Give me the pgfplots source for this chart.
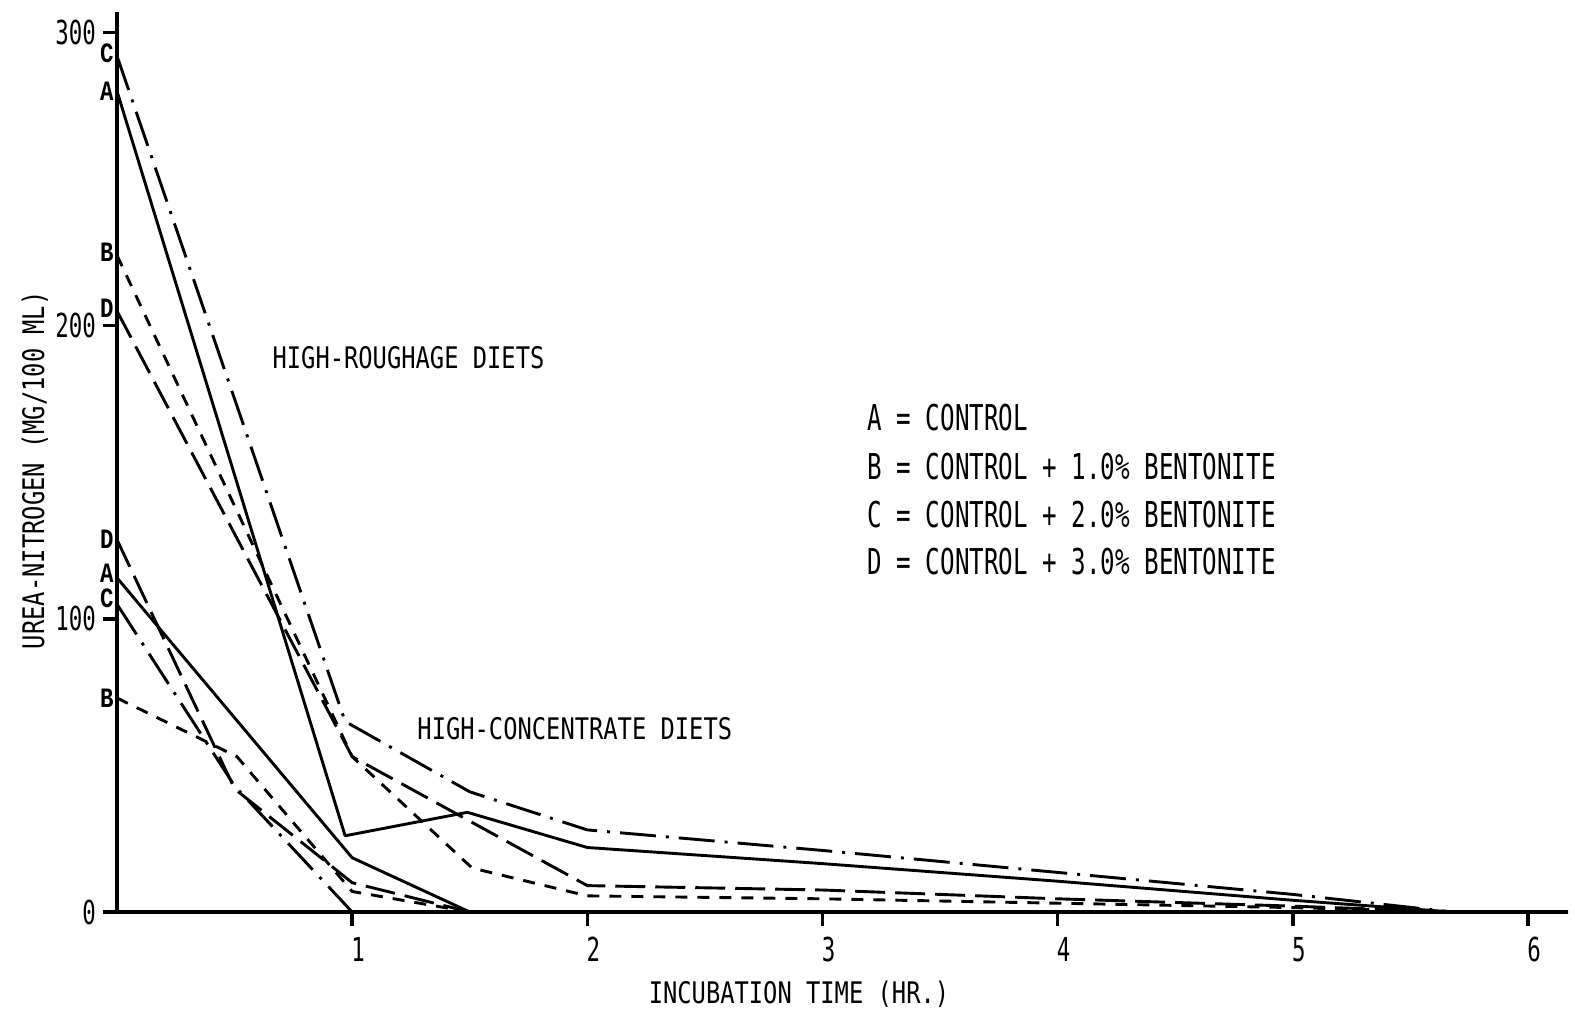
\documentclass[border=0pt]{standalone}
\usepackage{fontspec}
\setmainfont{DejaVu Sans Mono}[FakeStretch=0.8]
\newfontfamily\legfont{DejaVu Sans Mono}[FakeStretch=0.68]
\newfontfamily\ptfont{Liberation Mono}[FakeStretch=0.8]
\usepackage{pgfplots}
\pgfplotsset{compat=1.18}
\newcommand{\mainsz}{\fontsize{14.85bp}{16bp}\selectfont}
\newcommand{\legsz}{\legfont\fontsize{17.8bp}{19bp}\selectfont}
\newcommand{\ticksz}{\legfont\fontsize{16.5bp}{18bp}\selectfont}
\newcommand{\ptsz}{\ptfont\bfseries\fontsize{14bp}{14bp}\selectfont}
\begin{document}
\begin{tikzpicture}
\useasboundingbox (-58.5bp,-50bp) rectangle (729bp,456bp);
\begin{axis}[
  at={(0,0)}, anchor=south west,
  scale only axis, width=725.5bp, height=450bp,
  xmin=0, xmax=6.17, ymin=0, ymax=307,
  axis x line=bottom, axis y line=left,
  axis line style={-, line width=2bp},
  xtick={1,2,3,4,5,6}, ytick={0,100,200,300},
  tick align=outside, major tick length=7bp,
  tick style={line width=1.8bp, black},
  /pgf/number format/assume math mode=true,
  tick label style={font=\ticksz},
  xticklabel style={yshift=-2bp, xshift=3bp},
  yticklabel style={xshift=0bp},
  clip=false,
  every axis plot/.append style={black, line width=1.45bp, line join=round},
]
% High-roughage
\addplot[solid] coordinates {(0,280) (0.97,26) (1.49,34) (2,22) (3,16.5) (4,10.5) (5,4) (5.68,0) (6.17,0)};
\addplot[dash pattern=on 6bp off 5bp] coordinates {(0,224) (1,53) (1.51,15) (2,5.5) (3,4.5) (4,3) (5,1.5) (5.68,0)};
\addplot[dash pattern=on 18bp off 5bp on 1.5bp off 5bp] coordinates {(0,292) (0.97,65) (1.5,41) (2,28) (3,21) (4,13.5) (5,6) (5.68,0)};
\addplot[dash pattern=on 15bp off 5bp] coordinates {(0,205) (1,53) (2,9) (3,7.5) (4,4.5) (5,2) (5.68,0)};
% High-concentrate
\addplot[solid] coordinates {(0,114) (1,18.5) (1.5,0)};
\addplot[dash pattern=on 6bp off 5bp] coordinates {(0,73) (0.51,53) (1,7) (1.5,0)};
\addplot[dash pattern=on 18bp off 5bp on 1.5bp off 5bp] coordinates {(0,105) (0.5,43) (1.0,0)};
\addplot[dash pattern=on 15bp off 5bp] coordinates {(0,127) (0.5,42) (1,10) (1.5,0)};
% series letters
\node[font=\ptsz, anchor=east, inner sep=1.5bp] at (axis cs:0,293) {C};
\node[font=\ptsz, anchor=east, inner sep=1.5bp] at (axis cs:0,280) {A};
\node[font=\ptsz, anchor=east, inner sep=1.5bp] at (axis cs:0,225) {B};
\node[font=\ptsz, anchor=east, inner sep=1.5bp] at (axis cs:0,206) {D};
\node[font=\ptsz, anchor=east, inner sep=1.5bp] at (axis cs:0,127) {D};
\node[font=\ptsz, anchor=east, inner sep=1.5bp] at (axis cs:0,115.6) {A};
\node[font=\ptsz, anchor=east, inner sep=1.5bp] at (axis cs:0,107) {C};
\node[font=\ptsz, anchor=east, inner sep=1.5bp] at (axis cs:0,73) {B};
% annotations
\node[font=\mainsz, anchor=west, inner sep=0pt] at (axis cs:0.66,189) {HIGH-ROUGHAGE DIETS};
\node[font=\mainsz, anchor=west, inner sep=0pt] at (axis cs:1.276,62.4) {HIGH-CONCENTRATE DIETS};
\node[font=\legsz, anchor=west, inner sep=0pt] at (axis cs:3.19,168.5) {A = CONTROL};
\node[font=\legsz, anchor=west, inner sep=0pt] at (axis cs:3.19,152.1) {B = CONTROL + 1.0\% BENTONITE};
\node[font=\legsz, anchor=west, inner sep=0pt] at (axis cs:3.19,135.7) {C = CONTROL + 2.0\% BENTONITE};
\node[font=\legsz, anchor=west, inner sep=0pt] at (axis cs:3.19,119.4) {D = CONTROL + 3.0\% BENTONITE};
% axis labels
\node[font=\mainsz, inner sep=0pt] at (axis cs:2.9,-28) {INCUBATION TIME (HR.)};
\node[font=\mainsz, inner sep=0pt, rotate=90] at (axis cs:-0.349,150.7) {UREA-NITROGEN (MG/100 ML)};
\end{axis}
\end{tikzpicture}
\end{document}
